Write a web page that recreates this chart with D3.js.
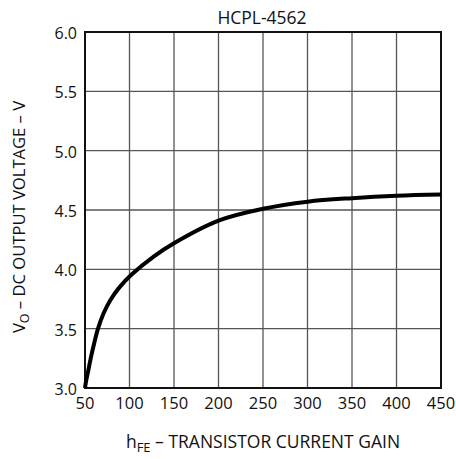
<!DOCTYPE html>
<html>
<head>
<meta charset="utf-8">
<script src="https://cdn.jsdelivr.net/npm/d3@7"></script>
<style>
  body { margin: 0; background: #fff; }
  text { font-family: "Open Sans", "Noto Sans", sans-serif; fill: #111; }
</style>
</head>
<body>
<div id="chart"></div>
<script>
// curve data
let gain = [50, 51, 53.5, 56.7, 60.4, 64.6, 70.9, 78.4, 88.9, 103, 127.5, 150, 200, 250, 300, 350, 400, 450];
let voltage = [3.0, 3.05, 3.14, 3.26, 3.38, 3.50, 3.63, 3.74, 3.85, 3.96, 4.11, 4.22, 4.41, 4.51, 4.57, 4.60, 4.62, 4.63];
let xTicks = [50, 100, 150, 200, 250, 300, 350, 400, 450];
let yTicks = [3.0, 3.5, 4.0, 4.5, 5.0, 5.5, 6.0];

let width = 456, height = 459;
let margin = {left: 85, top: 32, right: 15, bottom: 71};

let svg = d3.select("#chart")
  .append("svg")
  .attr("width", width)
  .attr("height", height);

let x = d3.scaleLinear().domain([50, 450]).range([margin.left, width - margin.right]);
let y = d3.scaleLinear().domain([3, 6]).range([height - margin.bottom, margin.top]);

// grid
svg.selectAll(".vgrid")
  .data(xTicks)
  .enter()
  .append("line")
  .attr("x1", d => x(d)).attr("x2", d => x(d))
  .attr("y1", y(3)).attr("y2", y(6))
  .attr("stroke", "#555")
  .attr("stroke-width", 1.3);

svg.selectAll(".hgrid")
  .data(yTicks)
  .enter()
  .append("line")
  .attr("x1", x(50)).attr("x2", x(450))
  .attr("y1", d => y(d)).attr("y2", d => y(d))
  .attr("stroke", "#555")
  .attr("stroke-width", 1.3);

// frame
svg.append("rect")
  .attr("x", x(50)).attr("y", y(6))
  .attr("width", x(450) - x(50))
  .attr("height", y(3) - y(6))
  .attr("fill", "none")
  .attr("stroke", "#111")
  .attr("stroke-width", 2);

// tick labels
svg.selectAll(".xlab")
  .data(xTicks)
  .enter()
  .append("text")
  .attr("x", d => x(d))
  .attr("y", y(3) + 21)
  .attr("text-anchor", "middle")
  .attr("font-size", 16.5)
  .text(d => d);

svg.selectAll(".ylab")
  .data(yTicks)
  .enter()
  .append("text")
  .attr("x", x(50) - 8)
  .attr("y", d => y(d) + 7)
  .attr("text-anchor", "end")
  .attr("font-size", 16)
  .text(d => d.toFixed(1));

// curve
let line = d3.line()
  .x((d, i) => x(gain[i]))
  .y(d => y(d))
  .curve(d3.curveCatmullRom.alpha(0.5));

svg.append("path")
  .datum(voltage)
  .attr("d", line)
  .attr("fill", "none")
  .attr("stroke", "#000")
  .attr("stroke-width", 4);

// title
svg.append("text")
  .attr("x", 262)
  .attr("y", 24)
  .attr("text-anchor", "middle")
  .attr("font-size", 17.5)
  .text("HCPL-4562");

// x axis title
let xt = svg.append("text")
  .attr("x", 263)
  .attr("y", 448)
  .attr("text-anchor", "middle")
  .attr("font-size", 17.5);
xt.append("tspan").text("h");
xt.append("tspan").attr("dy", 4).attr("font-size", 13).text("FE");
xt.append("tspan").attr("dy", -4).text(" – TRANSISTOR CURRENT GAIN");

// y axis title
let yt = svg.append("text")
  .attr("transform", "translate(25,217) rotate(-90)")
  .attr("text-anchor", "middle")
  .attr("font-size", 16.6);
yt.append("tspan").text("V");
yt.append("tspan").attr("dy", 4).attr("font-size", 12.5).text("O");
yt.append("tspan").attr("dy", -4).text(" – DC OUTPUT VOLTAGE – V");
</script>
</body>
</html>
